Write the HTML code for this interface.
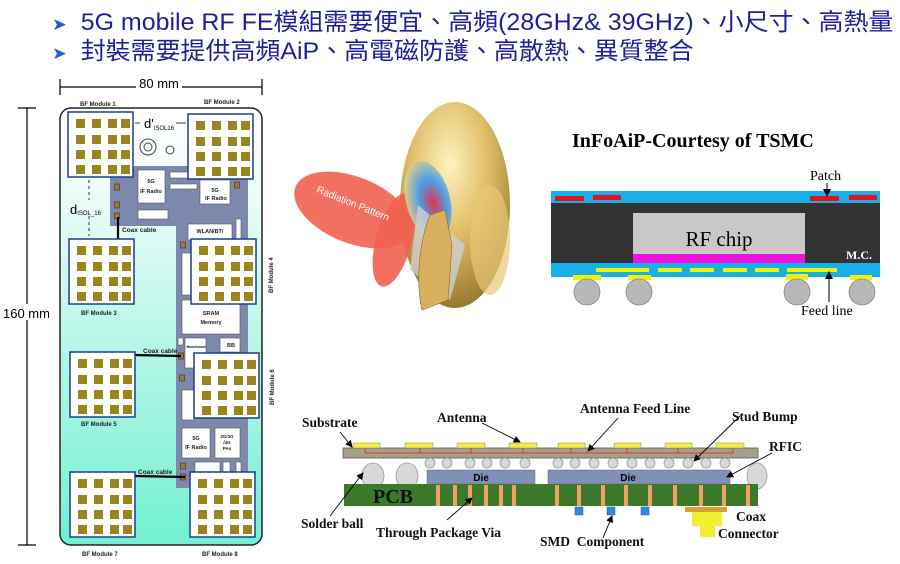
<!DOCTYPE html>
<html><head><meta charset="utf-8">
<style>
html,body{margin:0;padding:0;background:#fff;}
body{width:900px;height:564px;overflow:hidden;position:relative;}
.hd{position:absolute;left:52px;font-family:"Liberation Sans","Noto Sans CJK TC",sans-serif;font-size:24px;color:#1f1f99;white-space:nowrap;transform-origin:0 0;}
svg{position:absolute;left:0;top:0;}
</style></head><body>
<div class="hd" style="top:2px;transform:scaleX(1.04)"><span style="color:#1a5fd0;font-size:17px">➤</span>&nbsp; 5G mobile RF FE模組需要便宜、高頻(28GHz&amp; 39GHz)、小尺寸、高熱量</div>
<div class="hd" style="top:31px;transform:scaleX(1.04)"><span style="color:#1a5fd0;font-size:17px">➤</span>&nbsp; 封裝需要提供高頻AiP、高電磁防護、高散熱、異質整合</div>
<svg width="900" height="564" viewBox="0 0 900 564" font-family="Liberation Sans, sans-serif">
<defs>
<linearGradient id="ph" x1="0" y1="0" x2="0" y2="1"><stop offset="0" stop-color="#fff"/><stop offset="0.15" stop-color="#f2fcfa"/><stop offset="1" stop-color="#72f0d2"/></linearGradient>
<radialGradient id="head" cx="0.45" cy="0.3" r="0.7"><stop offset="0" stop-color="#fff3c0"/><stop offset="0.5" stop-color="#e0be68"/><stop offset="1" stop-color="#9a7a30"/></radialGradient>
<radialGradient id="disk" cx="0.6" cy="0.55" r="0.6"><stop offset="0" stop-color="#e0204a"/><stop offset="0.5" stop-color="#3a9af0"/><stop offset="1" stop-color="#e0d090"/></radialGradient>
<marker id="ar" markerWidth="8" markerHeight="8" refX="7" refY="4" orient="auto"><path d="M0,0 L8,4 L0,8z" fill="#000"/></marker>
<g id="mod"><rect x="0" y="0" width="65" height="65" fill="#fff" stroke="#1b3d8a" stroke-width="1.5"/>
<g fill="#9a8420">
<rect x="8" y="7" width="9" height="9"/><rect x="24" y="7" width="9" height="9"/><rect x="40" y="7" width="9" height="9"/><rect x="53" y="7" width="9" height="9"/>
<rect x="8" y="23" width="9" height="9"/><rect x="24" y="23" width="9" height="9"/><rect x="40" y="23" width="9" height="9"/><rect x="53" y="23" width="9" height="9"/>
<rect x="8" y="38" width="9" height="9"/><rect x="24" y="38" width="9" height="9"/><rect x="40" y="38" width="9" height="9"/><rect x="53" y="38" width="9" height="9"/>
<rect x="8" y="53" width="9" height="9"/><rect x="24" y="53" width="9" height="9"/><rect x="40" y="53" width="9" height="9"/><rect x="53" y="53" width="9" height="9"/>
</g></g>
<g id="cn"><rect x="-2.5" y="-3" width="5" height="6" fill="#9a7a40" stroke="#5a4020" stroke-width="0.8"/></g>
</defs>

<!-- phone -->
<line x1="60" y1="87" x2="262" y2="87" stroke="#000" stroke-width="1.2"/>
<line x1="60" y1="79" x2="60" y2="95" stroke="#000" stroke-width="1.2"/><line x1="262" y1="79" x2="262" y2="95" stroke="#000" stroke-width="1.2"/>
<rect x="136" y="76" width="46" height="14" fill="#fff"/>
<text x="159" y="88" font-size="13" text-anchor="middle">80 mm</text>
<line x1="27" y1="108" x2="27" y2="545" stroke="#000" stroke-width="1.2"/>
<line x1="18" y1="108" x2="36" y2="108" stroke="#000" stroke-width="1.2"/><line x1="18" y1="545" x2="36" y2="545" stroke="#000" stroke-width="1.2"/>
<rect x="1" y="304" width="50" height="16" fill="#fff"/>
<text x="3" y="318" font-size="13">160 mm</text>
<rect x="60" y="108" width="202" height="437" rx="11" fill="url(#ph)" stroke="#222" stroke-width="1.5"/>
<path d="M110,166 H248 V488 H176 V226 H110 Z" fill="#7d88ad"/>
<g fill="#fff" stroke="#555" stroke-width="0.6">
<rect x="138" y="170" width="27" height="33"/><rect x="170" y="172" width="27" height="6"/><rect x="170" y="184" width="27" height="5"/>
<rect x="200" y="180" width="30" height="24"/><rect x="138" y="210" width="30" height="9"/>
<rect x="188" y="224" width="44" height="16"/><rect x="236" y="219" width="5" height="26"/>
<rect x="182" y="253" width="12" height="42"/><rect x="182" y="300" width="58" height="34"/>
<rect x="178" y="338" width="5" height="7"/><rect x="185" y="338" width="21" height="30"/><rect x="220" y="338" width="20" height="14"/>
<rect x="182" y="390" width="12" height="30"/><rect x="182" y="428" width="28" height="30"/><rect x="215" y="428" width="25" height="30"/>
<rect x="195" y="462" width="25" height="13"/><rect x="223" y="462" width="7" height="10"/><rect x="236" y="462" width="5" height="10"/>
</g>
<g font-size="5.5" font-weight="bold" text-anchor="middle" fill="#222">
<text x="151" y="183">5G</text><text x="151" y="193">IF Radio</text>
<text x="215" y="192">5G</text><text x="216" y="200">IF Radio</text>
<text x="210" y="233">WLAN/BT/</text>
<text x="211" y="315">SRAM</text><text x="211" y="324">Memory</text>
<text x="196" y="348" font-size="4">Baseband</text><text x="231" y="347">BB</text>
<text x="196" y="440">5G</text><text x="196" y="449">IF Radio</text>
<text x="227" y="438" font-size="4.5">2G/3G</text><text x="227" y="444" font-size="4.5">/4G</text><text x="227" y="450" font-size="4.5">PAs</text>
</g>
<circle cx="148" cy="147" r="8" fill="none" stroke="#444" stroke-width="1"/><circle cx="148" cy="147" r="4" fill="none" stroke="#444" stroke-width="1"/><circle cx="170" cy="150" r="4" fill="none" stroke="#444" stroke-width="1"/>
<use href="#cn" x="117" y="187"/><use href="#cn" x="117" y="205"/><use href="#cn" x="117" y="216"/><use href="#cn" x="237" y="185"/><use href="#cn" x="183" y="245"/><use href="#cn" x="181" y="356"/><use href="#cn" x="182" y="378"/><use href="#cn" x="183" y="466"/><use href="#cn" x="183" y="477"/>
<line x1="118" y1="217" x2="118" y2="239" stroke="#000" stroke-width="2.2"/>
<line x1="134" y1="355" x2="181" y2="356" stroke="#000" stroke-width="2.2"/>
<line x1="135" y1="476" x2="185" y2="477" stroke="#000" stroke-width="2.2"/>
<g font-size="6.5" font-weight="bold" fill="#222">
<text x="122" y="232">Coax cable</text><text x="143" y="353">Coax cable</text><text x="138" y="474">Coax cable</text>
</g>
<use href="#mod" x="68" y="112"/><use href="#mod" x="188" y="114"/><use href="#mod" x="69" y="239"/><use href="#mod" x="191" y="239"/>
<use href="#mod" x="70" y="352"/><use href="#mod" x="194" y="353"/><use href="#mod" x="70" y="472"/><use href="#mod" x="190" y="472"/>
<line x1="135" y1="123" x2="186" y2="123" stroke="#000" stroke-width="0.8"/>
<rect x="140" y="114" width="36" height="16" fill="#fff"/>
<text x="144" y="128" font-size="13">d'<tspan font-size="6" dy="2">ISOL16</tspan></text>
<line x1="89" y1="180" x2="89" y2="236" stroke="#000" stroke-width="0.8" stroke-dasharray="3,3"/>
<rect x="68" y="200" width="38" height="16" fill="#e8fbf7"/>
<text x="70" y="214" font-size="13">d<tspan font-size="6" dy="1">ISOL_16</tspan></text>
<g font-size="6" font-weight="bold" fill="#222">
<text x="80" y="106">BF Module 1</text><text x="204" y="104">BF Module 2</text><text x="81" y="315">BF Module 3</text>
<text x="81" y="426">BF Module 5</text><text x="82" y="556">BF Module 7</text><text x="202" y="556">BF Module 8</text>
<text transform="translate(273,293) rotate(-90)">BF Module 4</text><text transform="translate(274,405) rotate(-90)">BF Module 6</text>
</g>

<!-- head -->
<ellipse cx="455" cy="205" rx="55" ry="103" fill="url(#head)"/>
<ellipse cx="490" cy="240" rx="20" ry="55" fill="#e8c878" opacity="0.7"/>
<ellipse cx="353" cy="210" rx="62" ry="33" transform="rotate(22 353 210)" fill="#f06050" opacity="0.9"/>
<ellipse cx="394" cy="240" rx="18" ry="48" transform="rotate(15 394 240)" fill="#f06050" opacity="0.9"/>
<ellipse cx="428" cy="200" rx="22" ry="40" transform="rotate(-15 428 200)" fill="url(#disk)" opacity="0.9"/>
<polygon points="418,205 465,245 450,300 410,270" fill="#d0d0d0" opacity="0.8"/>
<path d="M422,310 C415,280 420,240 430,215 L445,210 L452,245 L448,300 Z" fill="#d8b060" stroke="#8a6a20" stroke-width="0.6"/>
<text transform="translate(316,192) rotate(22)" font-size="10" fill="#fff">Radiation Pattern</text>

<!-- InFo -->
<text x="572" y="147" font-family="Liberation Serif, serif" font-weight="bold" font-size="20">InFoAiP-Courtesy of TSMC</text>
<rect x="551" y="191" width="329" height="12" fill="#18b0e8"/>
<g fill="#e8101a"><rect x="555" y="196" width="29" height="5"/><rect x="593" y="195" width="28" height="5"/><rect x="810" y="196" width="29" height="5"/><rect x="849" y="195" width="28" height="5"/></g>
<rect x="551" y="203" width="329" height="60" fill="#333"/>
<rect x="633" y="213" width="172" height="41" fill="#c8c8c8"/>
<rect x="633" y="254" width="172" height="9" fill="#f010e0"/>
<text x="719" y="246" font-family="Liberation Serif, serif" font-size="21" text-anchor="middle">RF chip</text>
<text x="846" y="259" font-family="Liberation Serif, serif" font-weight="bold" font-size="12" fill="#fff">M.C.</text>
<rect x="551" y="263" width="329" height="14" fill="#18b0e8"/>
<g fill="#f4f000"><rect x="596" y="268" width="53" height="4"/><rect x="658" y="268" width="24" height="4"/><rect x="690" y="268" width="24" height="4"/><rect x="723" y="268" width="24" height="4"/><rect x="755" y="268" width="24" height="4"/><rect x="787" y="268" width="50" height="4"/>
<rect x="573" y="275" width="28" height="5"/><rect x="628" y="275" width="23" height="5"/><rect x="786" y="274" width="22" height="6"/><rect x="850" y="275" width="22" height="5"/></g>
<g fill="#b8b8b8" stroke="#888" stroke-width="0.8"><circle cx="587" cy="292" r="13"/><circle cx="639" cy="292" r="13"/><circle cx="797" cy="292" r="13"/><circle cx="862" cy="292" r="13"/></g>
<text x="810" y="180" font-family="Liberation Serif, serif" font-size="14">Patch</text>
<line x1="827" y1="183" x2="827" y2="196" stroke="#000" marker-end="url(#ar)"/>
<text x="801" y="315" font-family="Liberation Serif, serif" font-size="14">Feed line</text>
<line x1="829" y1="302" x2="829" y2="272" stroke="#000" marker-end="url(#ar)"/>

<!-- bottom package -->
<rect x="343" y="448" width="415" height="10" fill="#a89e8c" stroke="#555" stroke-width="0.8"/>
<g fill="#f0f030" stroke="#888" stroke-width="0.5"><rect x="353" y="443" width="27" height="5"/><rect x="405" y="443" width="28" height="5"/><rect x="457" y="443" width="28" height="5"/><rect x="509" y="443" width="28" height="5"/><rect x="558" y="443" width="27" height="5"/><rect x="614" y="443" width="27" height="5"/><rect x="665" y="443" width="27" height="5"/><rect x="716" y="443" width="28" height="5"/></g>
<g stroke="#e02020" stroke-width="0.8"><line x1="365" y1="453" x2="733" y2="453"/><line x1="365" y1="449" x2="365" y2="453"/><line x1="733" y1="449" x2="733" y2="453"/><line x1="420" y1="448" x2="420" y2="453"/><line x1="471" y1="448" x2="471" y2="453"/><line x1="523" y1="448" x2="523" y2="453"/><line x1="571" y1="448" x2="571" y2="453"/><line x1="627" y1="448" x2="627" y2="453"/><line x1="678" y1="448" x2="678" y2="453"/></g>
<g fill="#d8d8d8" stroke="#999" stroke-width="0.8"><ellipse cx="373" cy="476" rx="11" ry="13"/><ellipse cx="407" cy="476" rx="11" ry="13"/><ellipse cx="757" cy="476" rx="10" ry="13"/>
<circle cx="430" cy="463" r="5"/><circle cx="447" cy="463" r="5"/><circle cx="470" cy="463" r="5"/><circle cx="487" cy="463" r="5"/><circle cx="505" cy="463" r="5"/><circle cx="525" cy="463" r="5"/>
<circle cx="558" cy="463" r="5"/><circle cx="575" cy="463" r="5"/><circle cx="594" cy="463" r="5"/><circle cx="613" cy="463" r="5"/><circle cx="632" cy="463" r="5"/><circle cx="650" cy="463" r="5"/><circle cx="669" cy="463" r="5"/><circle cx="688" cy="463" r="5"/><circle cx="706" cy="463" r="5"/><circle cx="725" cy="463" r="5"/></g>
<rect x="427" y="470" width="108" height="14" fill="#8090b8" stroke="#667" stroke-width="0.5"/>
<rect x="548" y="470" width="182" height="14" fill="#8090b8" stroke="#667" stroke-width="0.5"/>
<text x="481" y="481" font-size="10" font-weight="bold" text-anchor="middle">Die</text>
<text x="628" y="481" font-size="10" font-weight="bold" text-anchor="middle">Die</text>
<rect x="344" y="484" width="414" height="22" fill="#3c7a2a"/>
<g fill="#f0a060"><rect x="436" y="485" width="4" height="21"/><rect x="453" y="485" width="4" height="21"/><rect x="468" y="485" width="4" height="21"/><rect x="484" y="485" width="4" height="21"/><rect x="499" y="485" width="4" height="21"/><rect x="512" y="485" width="4" height="21"/>
<rect x="555" y="485" width="4" height="21"/><rect x="577" y="485" width="4" height="21"/><rect x="601" y="485" width="4" height="21"/><rect x="624" y="485" width="4" height="21"/><rect x="648" y="485" width="4" height="21"/><rect x="673" y="485" width="4" height="21"/><rect x="699" y="485" width="4" height="21"/><rect x="722" y="485" width="4" height="21"/><rect x="746" y="485" width="4" height="21"/></g>
<text x="373" y="503" font-family="Liberation Serif, serif" font-weight="bold" font-size="20" fill="#111">PCB</text>
<g fill="#2a8ae0" stroke="#1a5aa0" stroke-width="0.5"><rect x="575" y="507" width="8" height="8"/><rect x="607" y="507" width="8" height="8"/><rect x="641" y="507" width="8" height="8"/></g>
<rect x="685" y="507" width="42" height="5" fill="#d8a030"/>
<rect x="692" y="512" width="30" height="14" fill="#f0f030"/>
<rect x="700" y="526" width="15" height="11" fill="#f0f030"/>
<g font-family="Liberation Serif, serif" font-weight="bold" font-size="13.5" fill="#111">
<text x="302" y="427">Substrate</text><text x="437" y="422">Antenna</text><text x="580" y="413">Antenna Feed Line</text>
<text x="732" y="421">Stud Bump</text><text x="769" y="451">RFIC</text><text x="301" y="528">Solder ball</text>
<text x="376" y="537">Through Package Via</text><text x="540" y="546">SMD&#160; Component</text>
<text x="736" y="521">Coax</text><text x="718" y="538">Connector</text>
</g>
<g stroke="#000" stroke-width="0.9" marker-end="url(#ar)">
<line x1="340" y1="432" x2="352" y2="447"/><line x1="482" y1="423" x2="520" y2="442"/><line x1="618" y1="418" x2="588" y2="451"/>
<line x1="740" y1="416" x2="694" y2="461"/><line x1="772" y1="453" x2="727" y2="477"/><line x1="330" y1="516" x2="363" y2="473"/>
<line x1="447" y1="520" x2="472" y2="498"/><line x1="603" y1="538" x2="612" y2="516"/>
</g>
</svg>
</body></html>
